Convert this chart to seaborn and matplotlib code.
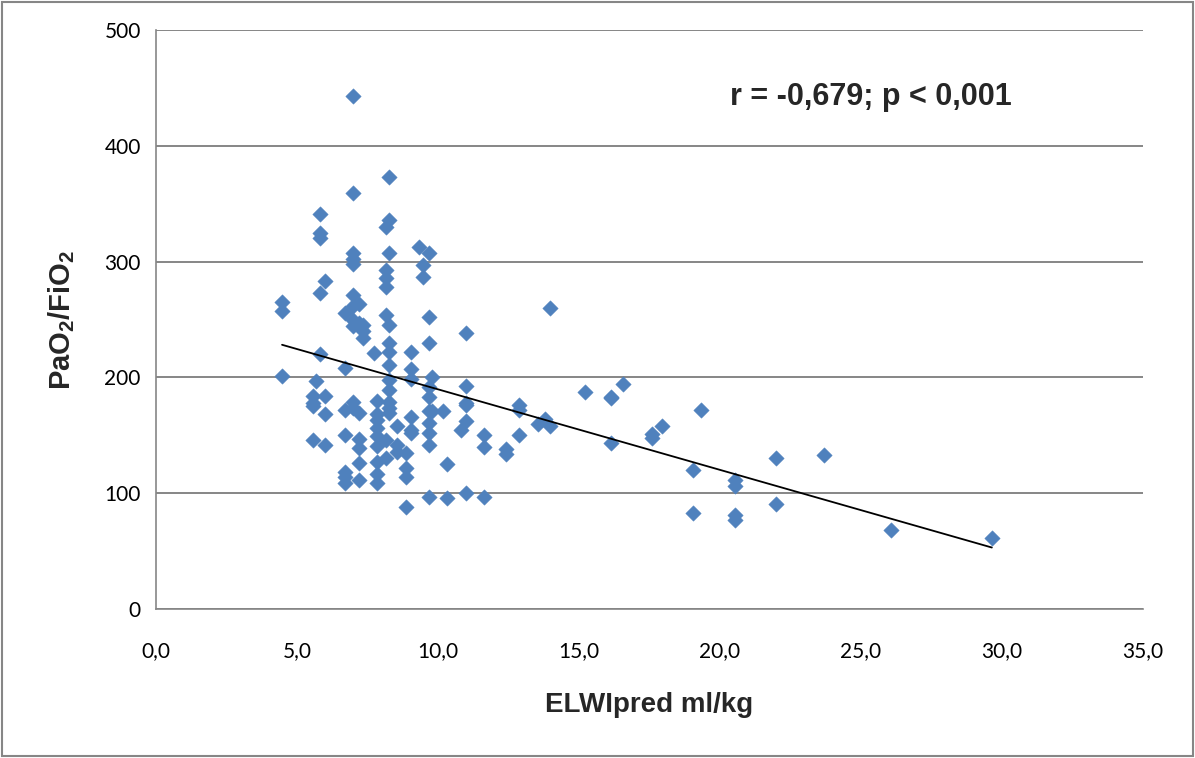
import matplotlib
matplotlib.use("Agg")
import matplotlib.pyplot as plt
import seaborn as sns
import pandas as pd
from matplotlib.patches import Rectangle

# ELWI predicted (ml/kg) and PaO2/FiO2 ratio per patient
elwi = [
    4.47, 4.47, 4.47,
    5.57, 5.57, 5.57, 5.57, 5.67,
    5.83, 5.83, 5.83, 5.83, 5.83,
    5.99, 5.99, 5.99, 5.99,
    6.69, 6.69, 6.69, 6.69, 6.69, 6.69, 6.69,
    6.99, 6.99, 6.99, 6.99, 6.99, 6.99, 6.99, 6.99, 6.99, 6.99, 6.99,
    7.20, 7.20, 7.20, 7.20, 7.20, 7.20, 7.20,
    7.34, 7.34, 7.34,
    7.73,
    7.82, 7.82, 7.82, 7.82, 7.82, 7.82, 7.82, 7.82, 7.82,
    8.17, 8.17, 8.17, 8.17, 8.17, 8.17, 8.17,
    8.28, 8.28, 8.28, 8.28, 8.28, 8.28, 8.28, 8.28, 8.28, 8.28, 8.28, 8.28,
    8.56, 8.56, 8.56,
    8.85, 8.85, 8.85, 8.85,
    9.03, 9.03, 9.03, 9.03, 9.03, 9.03,
    9.31,
    9.47, 9.47,
    9.68, 9.68, 9.68, 9.68, 9.68, 9.68, 9.68, 9.68, 9.68, 9.68,
    9.79, 9.79,
    10.18,
    10.32, 10.32,
    10.80,
    10.99, 10.99, 10.99, 10.99, 10.99, 10.99,
    11.63, 11.63, 11.63,
    12.41, 12.41,
    12.87, 12.87, 12.87,
    13.55,
    13.79,
    13.97, 13.97,
    15.21,
    16.13, 16.13, 16.13,
    16.56,
    17.59, 17.59,
    17.94,
    19.04, 19.04,
    19.33,
    20.53, 20.53, 20.53, 20.53,
    21.99, 21.99,
    23.69,
    26.06,
    29.64,
]
pf_ratio = [
    265, 257, 201,
    184, 175, 178, 146, 197,
    341, 325, 320, 273, 220,
    283, 184, 168, 142,
    256, 208, 172, 150, 118, 109, 114,
    443, 359, 307, 302, 298, 271, 262, 250, 244, 179, 174,
    263, 247, 169, 147, 139, 126, 111,
    245, 240, 234,
    221,
    180, 168, 163, 156, 149, 141, 127, 117, 109,
    330, 293, 286, 278, 254, 146, 130,
    373, 336, 307, 245, 230, 222, 211, 198, 189, 179, 174, 169,
    158, 142, 136,
    135, 122, 114, 88,
    222, 207, 199, 166, 155, 152,
    313,
    297, 287,
    307, 252, 230, 192, 183, 171, 161, 152, 142, 97,
    200, 171,
    171,
    125, 96,
    155,
    238, 193, 178, 176, 162, 100,
    150, 140, 97,
    138, 134,
    176, 172, 150,
    160,
    164,
    260, 158,
    187,
    183, 182, 143,
    194,
    151, 148,
    158,
    120, 83,
    172,
    111, 106, 81, 77,
    130, 91,
    133,
    68,
    61,
]

x_ticks = [0, 5, 10, 15, 20, 25, 30, 35]
x_tick_labels = ["0,0", "5,0", "10,0", "15,0", "20,0", "25,0", "30,0", "35,0"]
y_ticks = [0, 100, 200, 300, 400, 500]
stats_text = "r = -0,679; p < 0,001"

df = pd.DataFrame({"elwi": elwi, "pf": pf_ratio})

sns.set_theme(style="white")
plt.rcParams["font.family"] = ["Liberation Sans", "DejaVu Sans"]
plt.rcParams["mathtext.fontset"] = "custom"
plt.rcParams["mathtext.rm"] = "Liberation Sans:bold"
plt.rcParams["mathtext.default"] = "rm"

fig = plt.figure(figsize=(11.95, 7.58), dpi=100)
ax = fig.add_axes([156 / 1195, 1 - 609 / 758, (1143 - 156) / 1195, (609 - 30) / 758])

grid_col = "#868686"
blue = "#4F81BD"

sns.scatterplot(data=df, x="elwi", y="pf", ax=ax, marker="D", s=62,
                color=blue, edgecolor=blue, linewidth=0.3, zorder=3)
sns.regplot(data=df, x="elwi", y="pf", ax=ax, scatter=False, ci=None,
            truncate=True, color="black", line_kws={"linewidth": 1.3, "zorder": 4})

ax.set_xlim(0, 35)
ax.set_ylim(0, 500)
ax.set_xticks(x_ticks)
ax.set_xticklabels(x_tick_labels)
ax.set_yticks(y_ticks)

ax.yaxis.grid(True, color=grid_col, linewidth=1.4, zorder=0)
ax.xaxis.grid(False)
ax.set_axisbelow(True)
for side in ["top", "right"]:
    ax.spines[side].set_visible(False)
for side in ["left", "bottom"]:
    ax.spines[side].set_color(grid_col)
    ax.spines[side].set_linewidth(1.2)

tick_font = ["Lato", "Liberation Sans", "DejaVu Sans"]
ax.tick_params(axis="both", which="major", direction="out", length=6,
               width=1.2, color=grid_col, labelsize=15, pad=5, labelcolor="black")
ax.tick_params(axis="x", pad=17)
for lbl in ax.get_xticklabels() + ax.get_yticklabels():
    lbl.set_family(tick_font)

ax.set_xlabel("ELWIpred ml/kg", fontsize=20, fontweight="bold", labelpad=22)
ax.set_ylabel(r"PaO$_2$/FiO$_2$", fontsize=21, fontweight="bold", labelpad=20)

ax.text(20.35, 442, stats_text, fontsize=22, fontweight="bold",
        ha="left", va="center")

# outer chart border
fig.patches.append(Rectangle((0.0015, 0.002), 0.997, 0.996, transform=fig.transFigure,
                             fill=False, edgecolor=grid_col, linewidth=1.5))

fig.savefig("out.png", dpi=100)
